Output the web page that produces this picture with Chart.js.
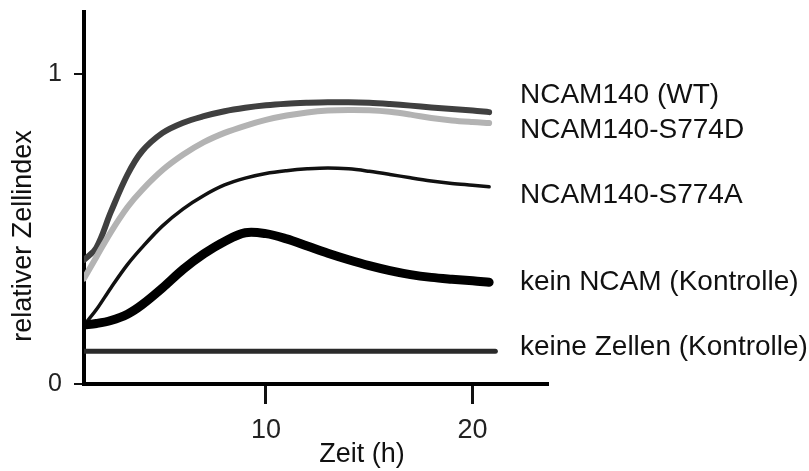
<!DOCTYPE html>
<html lang="de">
<head>
<meta charset="utf-8">
<title>Relativer Zellindex</title>
<script src="https://cdn.jsdelivr.net/npm/chart.js@4/dist/chart.umd.min.js"></script>
<style>
  html, body { margin: 0; padding: 0; background: #fff; }
</style>
</head>
<body>
<canvas id="chart" width="809" height="471"></canvas>
<script>
// --- DATEN ---
const stunden = [1.2, 1.8, 2.5, 3.3, 4, 5, 6, 7, 8, 9, 10, 11, 12, 13, 14, 15, 16, 17, 18, 19, 20, 20.8];
const wt       = [0.40, 0.44, 0.555, 0.675, 0.75, 0.81, 0.843, 0.864, 0.88, 0.891, 0.899, 0.904, 0.907, 0.909, 0.909, 0.907, 0.903, 0.898, 0.892, 0.887, 0.882, 0.877];
const s774d    = [0.34, 0.41, 0.49, 0.57, 0.625, 0.69, 0.74, 0.78, 0.81, 0.833, 0.852, 0.866, 0.876, 0.882, 0.884, 0.883, 0.878, 0.869, 0.858, 0.85, 0.845, 0.842];
const s774a    = [0.19, 0.24, 0.31, 0.385, 0.44, 0.51, 0.565, 0.608, 0.642, 0.664, 0.679, 0.688, 0.694, 0.697, 0.694, 0.686, 0.676, 0.665, 0.655, 0.647, 0.641, 0.636];
const keinNcam = [0.19, 0.195, 0.205, 0.225, 0.255, 0.31, 0.37, 0.42, 0.46, 0.488, 0.485, 0.468, 0.445, 0.422, 0.401, 0.382, 0.366, 0.353, 0.344, 0.338, 0.333, 0.328];
const leerStunden = [1.2, 21.1];
const leerWerte   = [0.106, 0.106];

const xTicks = [10, 20];
const yTicks = [0, 1];
const namen = ['NCAM140 (WT)', 'NCAM140-S774D', 'NCAM140-S774A', 'kein NCAM (Kontrolle)', 'keine Zellen (Kontrolle)'];

const punkte = (xs, ys) => xs.map((x, i) => ({ x: x, y: ys[i] }));
const schrift = '"Liberation Sans", Arial, sans-serif';

// --- BESCHRIFTUNG (Achsentitel + Namen rechts) ---
const beschriftung = {
  id: 'beschriftung',
  afterDraw(chart) {
    const ctx = chart.ctx;
    const namenY = [95, 130, 195, 282, 347];
    ctx.save();
    ctx.fillStyle = '#111';
    ctx.textBaseline = 'middle';
    ctx.textAlign = 'left';
    ctx.font = '28px ' + schrift;
    namen.forEach((n, i) => ctx.fillText(n, 520, namenY[i]));

    ctx.font = '27px ' + schrift;
    ctx.textAlign = 'center';
    ctx.fillText('Zeit (h)', 362, 455);

    ctx.translate(24, 236);
    ctx.rotate(-Math.PI / 2);
    ctx.fillText('relativer Zellindex', 0, 0);
    ctx.restore();
  }
};

const linie = (daten, farbe, breite) => ({
  data: daten,
  borderColor: farbe,
  borderWidth: breite,
  pointRadius: 0,
  tension: 0.35,
  borderCapStyle: 'round',
  borderJoinStyle: 'round',
  fill: false
});

new Chart(document.getElementById('chart'), {
  type: 'line',
  data: {
    datasets: [
      linie(punkte(leerStunden, leerWerte), '#2a2a2a', 5),
      linie(punkte(stunden, keinNcam), '#000', 9),
      linie(punkte(stunden, s774a), '#111', 3.5),
      linie(punkte(stunden, s774d), '#b3b3b3', 6),
      linie(punkte(stunden, wt), '#404040', 6)
    ]
  },
  plugins: [beschriftung],
  options: {
    responsive: false,
    animation: false,
    devicePixelRatio: 1,
    layout: { padding: { top: 12, right: 262, left: 0, bottom: 0 } },
    plugins: { legend: { display: false }, tooltip: { enabled: false } },
    scales: {
      x: {
        type: 'linear',
        min: 1.2,
        max: 23.6,
        afterBuildTicks: s => { s.ticks = xTicks.map(v => ({ value: v })); },
        afterFit: s => { s.height = 87; s.paddingLeft = 0; s.paddingRight = 0; },
        border: { display: true, color: '#000', width: 4 },
        grid: { drawOnChartArea: false, drawTicks: true, tickLength: 20, color: '#111', lineWidth: 3 },
        ticks: { color: '#222', font: { family: schrift, size: 27 }, padding: 10, maxRotation: 0 }
      },
      y: {
        min: 0,
        max: 1.2,
        afterBuildTicks: s => { s.ticks = yTicks.map(v => ({ value: v })); },
        afterFit: s => { s.width = 84; s.paddingTop = 0; s.paddingBottom = 0; },
        border: { display: true, color: '#000', width: 4 },
        grid: { drawOnChartArea: false, drawTicks: true, tickLength: 10, color: '#111', lineWidth: 2 },
        ticks: { color: '#222', font: { family: schrift, size: 25 }, padding: 12 }
      }
    }
  }
});
</script>
</body>
</html>
